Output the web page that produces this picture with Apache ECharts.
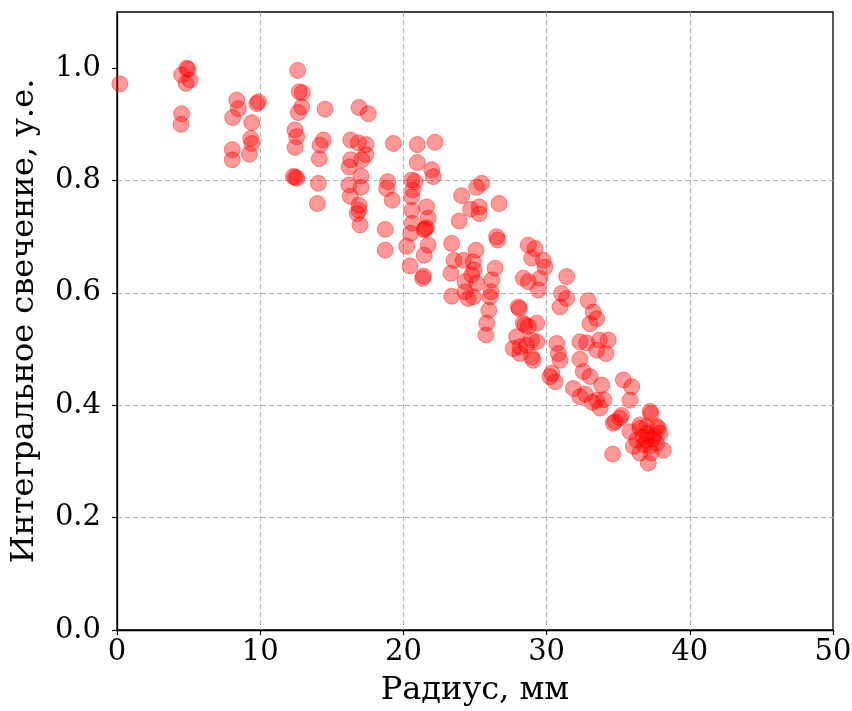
<!DOCTYPE html>
<html>
<head>
<meta charset="utf-8">
<script src="https://cdn.jsdelivr.net/npm/echarts@6/dist/echarts.min.js"></script>
<style>
  html, body { margin: 0; padding: 0; background: #fff; }
  #chart { width: 852px; height: 711px; }
</style>
</head>
<body>
<div id="chart"></div>
<script>
// Radius of each measured point, mm
const radius = [
  0.20, 4.87, 4.95, 4.52, 5.10, 4.82, 4.52, 4.47,
  8.36, 8.47, 8.08, 9.76, 9.87, 9.41, 9.34, 9.41, 9.24, 8.05, 8.05,
  12.62, 12.73, 12.94, 12.90, 12.66, 12.43, 12.55, 12.43, 12.31, 12.55, 12.45,
  14.06, 13.99, 14.53, 14.41, 14.18, 14.13,
  16.90, 17.55, 16.32, 16.85, 17.39, 17.39, 17.09, 16.32, 16.22, 17.04, 17.04,
  16.20, 16.29, 16.90, 16.78, 16.97, 16.90,
  19.30, 20.97, 22.21, 20.97, 21.98, 22.09, 18.90, 18.83, 19.22,
  20.58, 20.81, 20.65, 20.58, 20.58, 20.62, 20.51, 20.23, 20.46, 18.73, 18.73,
  21.62, 21.73, 21.52, 21.60, 21.45, 21.73, 21.45, 21.34, 21.40,
  24.07, 25.12, 25.47, 24.70, 25.30, 25.30, 26.68, 23.90, 26.51, 26.58,
  23.37, 23.53, 23.32, 23.37, 24.18, 24.88, 24.93, 25.07, 25.12, 24.30, 24.53,
  24.77, 24.88, 24.30, 26.40, 26.17, 26.12, 26.05, 25.96, 25.82, 25.77,
  28.02, 28.09, 28.49, 28.37, 28.72, 29.31, 27.91, 28.96, 28.60, 29.31, 28.14,
  27.67, 28.96, 28.14, 29.07,
  28.72, 29.19, 28.96, 29.77, 29.89, 29.54, 28.37, 28.72, 29.42,
  31.40, 31.05, 30.94, 31.40, 30.71, 30.82, 30.94, 30.36, 30.59, 30.24,
  32.91, 33.26, 33.50, 33.03, 33.68, 34.31, 34.15, 32.80, 33.50, 32.33, 32.56,
  33.03, 33.85, 31.87, 32.33, 33.50, 33.73, 32.33, 33.20, 32.70, 34.00,
  35.36, 35.94, 35.83, 37.22, 35.24, 34.78, 36.52, 37.69, 34.66, 35.13, 35.83,
  36.52, 36.98, 37.80, 37.92, 38.15, 37.69, 37.10, 36.52, 36.06, 36.98, 37.22,
  36.75, 36.29, 34.61, 37.30, 37.40, 37.00, 37.50, 36.80, 37.30
];

// Integral glow for each point, arbitrary units
const glow = [
  0.972, 1.000, 0.998, 0.988, 0.979, 0.973, 0.919, 0.900,
  0.943, 0.928, 0.912, 0.937, 0.940, 0.903, 0.875, 0.866, 0.847, 0.855, 0.837,
  0.996, 0.958, 0.956, 0.931, 0.921, 0.890, 0.878, 0.859, 0.807, 0.804, 0.806,
  0.795, 0.759, 0.927, 0.872, 0.863, 0.839,
  0.930, 0.919, 0.872, 0.867, 0.864, 0.846, 0.837, 0.837, 0.824, 0.808, 0.788,
  0.792, 0.772, 0.756, 0.741, 0.721, 0.747,
  0.866, 0.864, 0.868, 0.832, 0.819, 0.807, 0.798, 0.786, 0.765,
  0.801, 0.798, 0.783, 0.771, 0.747, 0.724, 0.706, 0.683, 0.648, 0.713, 0.676,
  0.753, 0.733, 0.714, 0.716, 0.712, 0.685, 0.667, 0.626, 0.630,
  0.773, 0.788, 0.795, 0.749, 0.753, 0.741, 0.759, 0.728, 0.700, 0.694,
  0.688, 0.658, 0.635, 0.594, 0.658, 0.655, 0.641, 0.676, 0.617, 0.602, 0.590,
  0.632, 0.593, 0.620, 0.644, 0.623, 0.602, 0.593, 0.569, 0.546, 0.525,
  0.575, 0.572, 0.543, 0.546, 0.540, 0.546, 0.522, 0.516, 0.507, 0.513, 0.504,
  0.501, 0.486, 0.492, 0.480,
  0.685, 0.679, 0.662, 0.658, 0.646, 0.626, 0.626, 0.620, 0.605,
  0.629, 0.599, 0.575, 0.590, 0.510, 0.492, 0.480, 0.457, 0.442, 0.451,
  0.586, 0.566, 0.554, 0.545, 0.516, 0.516, 0.492, 0.511, 0.498, 0.482, 0.460,
  0.451, 0.436, 0.430, 0.415, 0.409, 0.395, 0.513, 0.405, 0.420, 0.410,
  0.445, 0.433, 0.409, 0.389, 0.382, 0.371, 0.365, 0.362, 0.368, 0.377, 0.353,
  0.359, 0.362, 0.359, 0.350, 0.320, 0.332, 0.297, 0.315, 0.327, 0.338, 0.327,
  0.344, 0.338, 0.313, 0.385, 0.340, 0.350, 0.345, 0.330, 0.315
];

const xTicks = [0, 10, 20, 30, 40, 50];
const yTicks = [0, 0.2, 0.4, 0.6, 0.8, 1.0];

const points = radius.map((r, i) => [r, glow[i]]);

const FONT = '"DejaVu Serif", serif';
const gridLine = { show: true, showMinLine: false, showMaxLine: false,
                   lineStyle: { color: '#b0b0b0', type: [5, 3], width: 1 } };
const chart = echarts.init(document.getElementById('chart'), null, { renderer: 'canvas' });

chart.setOption({
  animation: false,
  backgroundColor: '#ffffff',
  grid: {
    left: 117, right: 19, top: 12, bottom: 81,
    outerBoundsMode: 'none',
    containLabel: false,
    show: true, borderColor: '#000000', borderWidth: 1.3, backgroundColor: 'transparent'
  },
  xAxis: {
    type: 'value', min: 0, max: 50, interval: 10,
    name: 'Радиус, мм', nameLocation: 'middle', nameGap: 45,
    nameTextStyle: { fontFamily: FONT, fontSize: 32, color: '#000' },
    axisLine: { show: true, lineStyle: { color: '#000', width: 1.3 } },
    axisTick: { show: true, length: 5, customValues: xTicks, lineStyle: { color: '#000', width: 1.2 } },
    axisLabel: { fontFamily: FONT, fontSize: 29, color: '#000', margin: 8, customValues: xTicks },
    splitLine: gridLine
  },
  yAxis: {
    type: 'value', min: 0, max: 1.1, interval: 0.2,
    name: 'Интегральное свечение, у.е.', nameLocation: 'middle', nameGap: 76,
    nameTextStyle: { fontFamily: FONT, fontSize: 32, color: '#000' },
    axisLine: { show: true, lineStyle: { color: '#000', width: 1.3 } },
    axisTick: { show: true, length: 5, customValues: yTicks, lineStyle: { color: '#000', width: 1.2 } },
    axisLabel: {
      fontFamily: FONT, fontSize: 29, color: '#000', margin: 16,
      customValues: yTicks,
      formatter: v => v.toFixed(1)
    },
    splitLine: gridLine
  },
  series: [{
    type: 'scatter',
    data: points,
    symbol: 'circle',
    symbolSize: 16,
    itemStyle: {
      color: 'rgba(255,0,0,0.5)',
      borderColor: 'rgba(255,0,0,0.5)',
      borderWidth: 1
    }
  }]
});
</script>
</body>
</html>
